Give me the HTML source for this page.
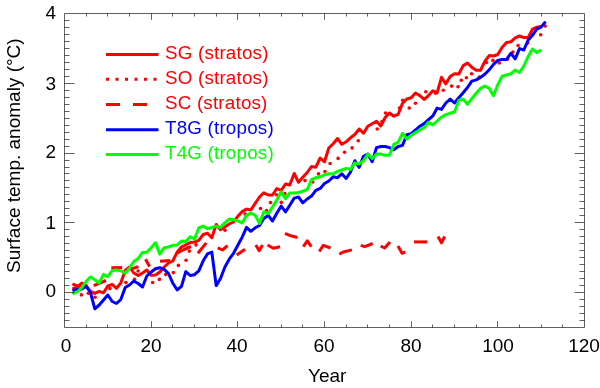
<!DOCTYPE html>
<html><head><meta charset="utf-8"><style>
html,body{margin:0;padding:0;background:#fff;}
body{width:600px;height:388px;overflow:hidden;position:relative;font-family:"Liberation Sans",sans-serif;}
svg{position:absolute;left:0;top:0;}
.t{position:absolute;font-size:19px;line-height:19px;white-space:nowrap;will-change:transform;}
.lg{font-size:18.8px;letter-spacing:0.2px;}
.yl{will-change:transform;position:absolute;font-size:19px;line-height:19px;width:30px;text-align:right;left:26px;}
.xl{will-change:transform;position:absolute;font-size:19px;line-height:19px;width:60px;text-align:center;}
</style></head><body>
<svg width="600" height="388" viewBox="0 0 600 388">
<polyline fill="none" stroke-width="3" stroke-linejoin="round" stroke="#ff0000" points="72.4,288.8 77.5,286.8 81.8,283.0 86.2,285.6 90.5,291.3 94.8,293.4 99.2,291.3 103.5,292.8 107.8,286.0 112.2,284.4 116.5,288.3 120.8,283.0 125.2,270.5 129.5,267.0 133.8,273.0 138.2,275.5 142.5,273.0 146.8,270.0 151.2,275.3 155.5,275.0 159.8,272.0 164.2,267.0 168.5,263.0 172.8,261.0 177.2,252.0 181.5,247.0 185.8,244.8 190.2,242.5 194.5,242.0 198.8,240.3 203.2,234.5 207.5,233.2 211.8,237.8 216.2,224.5 220.5,229.7 224.8,227.0 229.2,224.0 233.5,222.0 237.8,216.3 242.2,211.6 246.5,209.1 250.8,210.0 255.2,203.4 259.5,197.0 263.8,192.8 268.2,195.0 272.5,195.0 276.8,188.5 281.2,190.5 285.5,184.0 289.8,185.0 294.2,173.5 298.5,182.3 302.8,177.3 307.2,172.5 311.5,166.5 315.8,167.2 320.2,158.0 324.5,161.8 328.8,148.0 333.2,143.7 337.5,138.5 341.8,144.3 346.2,141.8 350.5,137.8 354.8,134.5 359.2,129.0 363.5,133.2 367.8,126.3 372.2,123.8 376.5,121.3 380.8,126.0 385.2,117.5 389.5,113.0 393.8,116.2 398.2,114.3 402.5,103.3 406.8,99.0 411.2,97.8 415.5,93.0 419.8,95.6 424.2,99.4 428.5,95.6 432.8,90.8 437.2,92.7 441.5,77.3 445.8,83.8 450.2,76.6 454.5,73.7 458.8,74.0 463.2,65.6 467.5,63.0 471.8,67.3 476.2,70.2 480.5,70.3 484.8,61.3 489.2,55.6 493.5,56.0 497.8,54.5 502.2,47.3 506.5,42.4 510.8,41.8 515.2,37.8 519.5,36.0 523.8,37.6 528.2,37.5 532.5,29.2 536.8,27.2 541.2,26.5"/><g fill="#ff0000"><circle cx="81.4" cy="294.9" r="1.8"/><circle cx="88.3" cy="293.3" r="1.8"/><circle cx="95.1" cy="297.3" r="1.8"/><circle cx="109.9" cy="288.6" r="1.8"/><circle cx="125.9" cy="282.6" r="1.8"/><circle cx="134.5" cy="279.3" r="1.8"/><circle cx="138.1" cy="271.0" r="1.8"/><circle cx="152.6" cy="282.5" r="1.8"/><circle cx="159.4" cy="279.4" r="1.8"/><circle cx="165.7" cy="274.4" r="1.8"/><circle cx="173.4" cy="272.6" r="1.8"/><circle cx="178.4" cy="265.4" r="1.8"/><circle cx="186.1" cy="260.3" r="1.8"/><circle cx="189.3" cy="251.1" r="1.8"/><circle cx="196.0" cy="244.9" r="1.8"/><circle cx="225.0" cy="230.3" r="1.8"/><circle cx="245.1" cy="214.1" r="1.8"/><circle cx="260.5" cy="208.5" r="1.8"/><circle cx="266.5" cy="210.6" r="1.8"/><circle cx="270.5" cy="202.6" r="1.8"/><circle cx="276.4" cy="194.8" r="1.8"/><circle cx="281.3" cy="202.4" r="1.8"/><circle cx="284.9" cy="193.6" r="1.8"/><circle cx="305.0" cy="180.6" r="1.8"/><circle cx="312.8" cy="182.0" r="1.8"/><circle cx="318.5" cy="173.9" r="1.8"/><circle cx="324.9" cy="171.5" r="1.8"/><circle cx="330.1" cy="163.5" r="1.8"/><circle cx="338.1" cy="158.4" r="1.8"/><circle cx="344.6" cy="152.2" r="1.8"/><circle cx="352.1" cy="147.9" r="1.8"/><circle cx="358.2" cy="140.8" r="1.8"/><circle cx="377.2" cy="129.0" r="1.8"/><circle cx="382.0" cy="121.5" r="1.8"/><circle cx="385.5" cy="113.0" r="1.8"/><circle cx="399.5" cy="108.0" r="1.8"/><circle cx="402.7" cy="100.3" r="1.8"/><circle cx="409.2" cy="108.0" r="1.8"/><circle cx="415.5" cy="103.3" r="1.8"/><circle cx="425.8" cy="91.8" r="1.8"/><circle cx="435.6" cy="93.2" r="1.8"/><circle cx="443.3" cy="90.3" r="1.8"/><circle cx="451.6" cy="86.1" r="1.8"/><circle cx="458.0" cy="86.7" r="1.8"/><circle cx="461.3" cy="80.3" r="1.8"/><circle cx="466.4" cy="77.7" r="1.8"/><circle cx="471.6" cy="73.8" r="1.8"/><circle cx="479.3" cy="77.1" r="1.8"/><circle cx="486.4" cy="62.4" r="1.8"/><circle cx="492.9" cy="60.4" r="1.8"/><circle cx="499.3" cy="63.0" r="1.8"/><circle cx="507.7" cy="59.1" r="1.8"/><circle cx="512.9" cy="52.1" r="1.8"/><circle cx="518.1" cy="45.5" r="1.8"/><circle cx="527.7" cy="43.0" r="1.8"/><circle cx="540.7" cy="34.7" r="1.8"/><circle cx="545.2" cy="26.1" r="1.8"/></g><polyline fill="none" stroke-width="3" stroke-linejoin="round" stroke="#ff0000" points="72.4,283.8 77.5,286.2 82.0,286.5"/><polyline fill="none" stroke-width="3" stroke-linejoin="round" stroke="#ff0000" points="93.7,285.6 100.0,283.0 106.0,280.5"/><polyline fill="none" stroke-width="3" stroke-linejoin="round" stroke="#ff0000" points="111.3,267.8 122.2,267.6"/><polyline fill="none" stroke-width="3" stroke-linejoin="round" stroke="#ff0000" points="131.0,269.0 138.5,266.6"/><polyline fill="none" stroke-width="3" stroke-linejoin="round" stroke="#ff0000" points="145.5,259.3 149.6,266.6"/><polyline fill="none" stroke-width="3" stroke-linejoin="round" stroke="#ff0000" points="160.0,261.2 170.3,260.6"/><polyline fill="none" stroke-width="3" stroke-linejoin="round" stroke="#ff0000" points="177.5,253.0 184.0,249.5 191.0,246.5"/><polyline fill="none" stroke-width="3" stroke-linejoin="round" stroke="#ff0000" points="197.9,253.2 206.3,242.9"/><polyline fill="none" stroke-width="3" stroke-linejoin="round" stroke="#ff0000" points="217.7,247.8 222.5,250.0 227.5,245.6"/><polyline fill="none" stroke-width="3" stroke-linejoin="round" stroke="#ff0000" points="236.7,255.0 245.0,249.2"/><polyline fill="none" stroke-width="3" stroke-linejoin="round" stroke="#ff0000" points="255.8,245.0 259.2,250.8 262.5,245.0"/><polyline fill="none" stroke-width="3" stroke-linejoin="round" stroke="#ff0000" points="267.5,245.0 273.3,248.3 280.0,246.7"/><polyline fill="none" stroke-width="3" stroke-linejoin="round" stroke="#ff0000" points="285.0,233.3 290.8,235.8 297.5,237.5"/><polyline fill="none" stroke-width="3" stroke-linejoin="round" stroke="#ff0000" points="303.3,246.7 307.3,240.8 311.3,246.7"/><polyline fill="none" stroke-width="3" stroke-linejoin="round" stroke="#ff0000" points="319.3,251.5 323.3,245.3 330.5,248.0"/><polyline fill="none" stroke-width="3" stroke-linejoin="round" stroke="#ff0000" points="339.3,254.1 343.3,252.0 351.9,249.9"/><polyline fill="none" stroke-width="3" stroke-linejoin="round" stroke="#ff0000" points="360.7,245.3 364.7,246.7 372.7,243.5"/><polyline fill="none" stroke-width="3" stroke-linejoin="round" stroke="#ff0000" points="380.7,246.1 384.7,248.0 390.0,241.9"/><polyline fill="none" stroke-width="3" stroke-linejoin="round" stroke="#ff0000" points="398.0,246.1 402.0,253.3 405.2,252.0"/><polyline fill="none" stroke-width="3" stroke-linejoin="round" stroke="#ff0000" points="414.0,241.9 427.3,241.9"/><polyline fill="none" stroke-width="3" stroke-linejoin="round" stroke="#ff0000" points="438.0,236.5 441.5,242.7 444.7,236.5"/><polyline fill="none" stroke-width="3" stroke-linejoin="round" stroke="#0000ff" points="72.4,290.4 77.5,289.5 81.8,289.0 86.2,286.5 90.5,292.5 94.8,308.8 99.2,305.0 103.5,300.0 107.8,295.0 112.2,301.5 116.5,303.5 120.8,299.5 125.2,287.5 129.5,285.0 133.8,281.0 138.2,283.5 142.5,287.0 146.8,276.0 151.2,272.0 155.5,268.8 159.8,267.7 164.2,269.4 168.5,273.5 172.8,283.2 177.2,289.9 181.5,286.3 185.8,271.6 190.2,275.5 194.5,274.7 198.8,270.9 203.2,260.8 207.5,253.9 211.8,252.0 216.2,285.6 220.5,278.5 224.8,267.3 229.2,259.2 233.5,253.4 237.8,245.2 242.2,237.1 246.5,227.4 250.8,231.3 255.2,227.8 259.5,225.5 263.8,218.5 268.2,215.4 272.5,221.0 276.8,213.2 281.2,206.0 285.5,212.0 289.8,205.3 294.2,198.1 298.5,197.0 302.8,202.9 307.2,199.0 311.5,196.1 315.8,190.3 320.2,188.4 324.5,183.5 328.8,181.0 333.2,176.8 337.5,177.7 341.8,173.8 346.2,178.5 350.5,172.0 354.8,160.7 359.2,167.3 363.5,156.3 367.8,154.1 372.2,161.8 376.5,147.6 380.8,146.5 385.2,146.5 389.5,147.6 393.8,149.8 398.2,146.5 402.5,145.4 406.8,134.8 411.2,133.6 415.5,130.0 419.8,126.2 424.2,123.6 428.5,119.7 432.8,115.9 437.2,108.1 441.5,109.4 445.8,103.0 450.2,99.1 454.5,103.0 458.8,97.8 463.2,92.7 467.5,87.5 471.8,81.1 476.2,79.9 480.5,77.4 484.8,74.2 489.2,69.8 493.5,64.3 497.8,60.4 502.2,59.5 506.5,59.5 510.8,53.3 515.2,58.8 519.5,48.6 523.8,50.0 528.2,40.0 532.5,35.3 536.8,29.0 541.2,27.2 545.5,21.6"/><polyline fill="none" stroke-width="3" stroke-linejoin="round" stroke="#00ff00" points="72.4,294.0 77.5,291.5 81.8,287.5 86.2,281.3 90.5,277.0 94.8,279.8 99.2,283.0 103.5,274.4 107.8,276.7 112.2,270.5 116.5,270.0 120.8,270.7 125.2,273.2 129.5,268.2 133.8,261.5 138.2,258.5 142.5,252.4 146.8,252.3 151.2,247.7 155.5,242.6 159.8,254.1 164.2,247.7 168.5,247.0 172.8,245.3 177.2,245.0 181.5,241.0 185.8,241.5 190.2,236.7 194.5,239.0 198.8,228.0 203.2,226.1 207.5,228.7 211.8,227.4 216.2,226.1 220.5,227.4 224.8,222.9 229.2,219.0 233.5,219.8 237.8,220.9 242.2,223.0 246.5,215.3 250.8,213.2 255.2,215.3 259.5,223.4 263.8,211.7 268.2,213.7 272.5,207.0 276.8,200.1 281.2,191.8 285.5,198.7 289.8,193.0 294.2,193.0 298.5,192.4 302.8,191.2 307.2,189.5 311.5,179.7 315.8,177.7 320.2,176.8 324.5,174.8 328.8,173.8 333.2,173.7 337.5,171.4 341.8,170.0 346.2,168.4 350.5,169.5 354.8,162.9 359.2,164.0 363.5,160.7 367.8,154.1 372.2,158.5 376.5,154.1 380.8,154.1 385.2,155.2 389.5,155.2 393.8,144.3 398.2,142.1 402.5,133.3 406.8,139.1 411.2,135.2 415.5,132.6 419.8,130.0 424.2,127.5 428.5,122.3 432.8,124.9 437.2,121.0 441.5,117.2 445.8,114.6 450.2,113.3 454.5,112.0 458.8,100.4 463.2,99.1 467.5,104.3 471.8,98.7 476.2,93.3 480.5,88.4 484.8,86.0 489.2,88.4 493.5,95.8 497.8,84.8 502.2,76.2 506.5,75.0 510.8,73.8 515.2,70.1 519.5,72.5 523.8,66.0 528.2,56.4 532.5,49.1 536.8,52.5 541.2,50.0"/>
<g stroke="#000" stroke-opacity="0.62" stroke-width="1" fill="none">
<path d="M64.5,13.5H584.5V327.5H64.5Z"/>
<path d="M64.5,20.50h5M584.5,20.50h-5M64.5,27.50h5M584.5,27.50h-5M64.5,34.50h5M584.5,34.50h-5M64.5,41.50h5M584.5,41.50h-5M64.5,48.50h5M584.5,48.50h-5M64.5,55.50h5M584.5,55.50h-5M64.5,62.50h5M584.5,62.50h-5M64.5,69.50h5M584.5,69.50h-5M64.5,76.50h5M584.5,76.50h-5M64.5,83.50h10M584.5,83.50h-10M64.5,90.50h5M584.5,90.50h-5M64.5,97.50h5M584.5,97.50h-5M64.5,104.50h5M584.5,104.50h-5M64.5,111.50h5M584.5,111.50h-5M64.5,118.50h5M584.5,118.50h-5M64.5,125.50h5M584.5,125.50h-5M64.5,132.50h5M584.5,132.50h-5M64.5,139.50h5M584.5,139.50h-5M64.5,146.50h5M584.5,146.50h-5M64.5,153.50h10M584.5,153.50h-10M64.5,160.50h5M584.5,160.50h-5M64.5,167.50h5M584.5,167.50h-5M64.5,173.50h5M584.5,173.50h-5M64.5,180.50h5M584.5,180.50h-5M64.5,187.50h5M584.5,187.50h-5M64.5,194.50h5M584.5,194.50h-5M64.5,201.50h5M584.5,201.50h-5M64.5,208.50h5M584.5,208.50h-5M64.5,215.50h5M584.5,215.50h-5M64.5,222.50h10M584.5,222.50h-10M64.5,229.50h5M584.5,229.50h-5M64.5,236.50h5M584.5,236.50h-5M64.5,243.50h5M584.5,243.50h-5M64.5,250.50h5M584.5,250.50h-5M64.5,257.50h5M584.5,257.50h-5M64.5,264.50h5M584.5,264.50h-5M64.5,271.50h5M584.5,271.50h-5M64.5,278.50h5M584.5,278.50h-5M64.5,285.50h5M584.5,285.50h-5M64.5,292.50h10M584.5,292.50h-10M64.5,299.50h5M584.5,299.50h-5M64.5,306.50h5M584.5,306.50h-5M64.5,313.50h5M584.5,313.50h-5M64.5,320.50h5M584.5,320.50h-5M86.50,327.5v-3M86.50,13.5v3M107.50,327.5v-3M107.50,13.5v3M129.50,327.5v-3M129.50,13.5v3M151.50,327.5v-6.3M151.50,13.5v6.3M172.50,327.5v-3M172.50,13.5v3M194.50,327.5v-3M194.50,13.5v3M216.50,327.5v-3M216.50,13.5v3M237.50,327.5v-6.3M237.50,13.5v6.3M259.50,327.5v-3M259.50,13.5v3M281.50,327.5v-3M281.50,13.5v3M302.50,327.5v-3M302.50,13.5v3M324.50,327.5v-6.3M324.50,13.5v6.3M346.50,327.5v-3M346.50,13.5v3M367.50,327.5v-3M367.50,13.5v3M389.50,327.5v-3M389.50,13.5v3M411.50,327.5v-6.3M411.50,13.5v6.3M432.50,327.5v-3M432.50,13.5v3M454.50,327.5v-3M454.50,13.5v3M476.50,327.5v-3M476.50,13.5v3M497.50,327.5v-6.3M497.50,13.5v6.3M519.50,327.5v-3M519.50,13.5v3M541.50,327.5v-3M541.50,13.5v3M562.50,327.5v-3M562.50,13.5v3"/>
</g>
<g stroke-width="3" fill="none" stroke-linecap="butt">
<path d="M106,54.4H158.5" stroke="#ff0000"/>
<path d="M106,79.3H158" stroke="#ff0000" stroke-dasharray="3 6.5"/>
<path d="M106,104.4H120M133,104.4H147" stroke="#ff0000"/>
<path d="M106,129.7H158.5" stroke="#0000ff"/>
<path d="M106,154.5H158.5" stroke="#00ff00"/>
</g>
</svg>
<div class="t lg" style="left:165.2px;top:42.8px;color:#ff0000">SG (stratos)</div>
<div class="t lg" style="left:165.2px;top:67.8px;color:#ff0000">SO (stratos)</div>
<div class="t lg" style="left:165.2px;top:92.8px;color:#ff0000">SC (stratos)</div>
<div class="t lg" style="left:165.2px;top:117.8px;color:#0000ff">T8G (tropos)</div>
<div class="t lg" style="left:165.2px;top:142.8px;color:#00ff00">T4G (tropos)</div>
<div class="yl" style="top:3px">4</div>
<div class="yl" style="top:74px">3</div>
<div class="yl" style="top:142px">2</div>
<div class="yl" style="top:213px">1</div>
<div class="yl" style="top:281px">0</div>
<div class="xl" style="left:36px;top:335.5px">0</div>
<div class="xl" style="left:121px;top:335.5px">20</div>
<div class="xl" style="left:207px;top:335.5px">40</div>
<div class="xl" style="left:294px;top:335.5px">60</div>
<div class="xl" style="left:381px;top:335.5px">80</div>
<div class="xl" style="left:468px;top:335.5px">100</div>
<div class="xl" style="left:554px;top:335.5px">120</div>
<div class="t" style="left:308.2px;top:365.5px">Year</div>
<div class="t" style="left:4px;top:273.3px;transform-origin:0 0;transform:rotate(-90deg)">Surface temp. anomaly (°C)</div>
</body></html>
